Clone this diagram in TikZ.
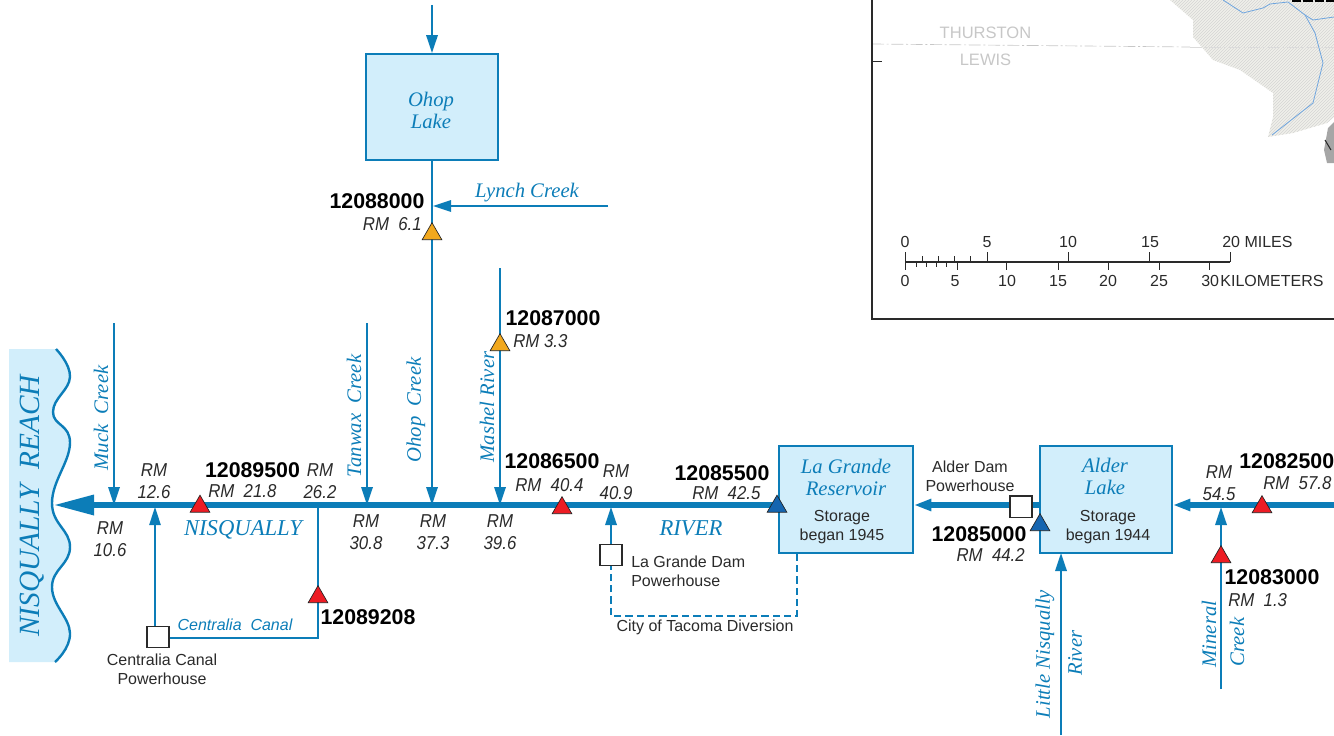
\documentclass[tikz,border=0pt]{standalone}
\usepackage{fontspec}
\usetikzlibrary{shapes.geometric,arrows.meta,calc,backgrounds}
\setmainfont{Liberation Sans}
\newfontfamily\serifit{Liberation Serif}[ItalicFont=* Italic]
\newfontfamily\narit{Liberation Sans}[FakeStretch=0.9]
\definecolor{riv}{HTML}{0C7DB8}
\definecolor{lake}{HTML}{D2EEFB}
\definecolor{ink}{HTML}{2A2A2A}
\definecolor{stream}{HTML}{6FA5DE}
\definecolor{land}{HTML}{F0F0EA}
\definecolor{gred}{HTML}{ED1C24}
\definecolor{gblue}{HTML}{1565B0}
\definecolor{gora}{HTML}{F2A81D}
\tikzset{
  x=0.75pt,y=-0.75pt,
  flow/.style={draw=riv,line width=1.7pt},
  minor/.style={flow,line width=1.2pt},
  inh/.style={-{Triangle[length=13.5pt,width=8.5pt]}},
  mainh/.style={-{Triangle[length=13pt,width=8.5pt]}},
  lakebox/.style={draw=riv,fill=lake,line width=1.4pt,inner sep=0pt},
  ph/.style={draw=ink,fill=white,line width=1pt,inner sep=0pt,minimum width=16.5pt,minimum height=16pt},
  gauge/.style={regular polygon,regular polygon sides=3,draw=ink!80!black,line width=.5pt,inner sep=0pt,minimum size=17pt},
  redg/.style={gauge,fill=gred},
  blueg/.style={gauge,fill=gblue},
  orag/.style={gauge,fill=gora},
  sid/.style={font=\fontsize{16}{16}\selectfont\bfseries,text=black,inner sep=0pt},
  rm/.style={font=\fontsize{14}{16}\narit\itshape,text=ink,inner sep=0pt,align=center},
  lab/.style={font=\fontsize{12}{14.5}\selectfont,text=ink,inner sep=0pt,align=center},
  nm/.style={font=\fontsize{15.5}{15.5}\serifit\itshape,text=riv,inner sep=0pt,align=center},
  big/.style={font=\fontsize{17}{17}\serifit\itshape,text=riv,inner sep=0pt},
  sc/.style={font=\fontsize{12}{12}\selectfont,text=ink,inner sep=0pt},
  ct/.style={font=\fontsize{12.4}{12.4}\selectfont,text=black!22,inner sep=0pt},
}
\begin{document}
\begin{tikzpicture}
\useasboundingbox (0,0) rectangle (1334,735);
% ---- map inset
\begin{scope}
\clip (872,0) rectangle (1334,319);
\path[fill=land] (1170,0)--(1193,20)--(1193,37)--(1213,60)--(1240,70)--(1273,93)--(1273,117)--(1268,137)--(1293,133)--(1327,123)--(1334,117)--(1334,0)--cycle;
\begin{scope}
\clip (1170,0)--(1193,20)--(1193,37)--(1213,60)--(1240,70)--(1273,93)--(1273,117)--(1268,137)--(1293,133)--(1327,123)--(1334,117)--(1334,0)--cycle;
\foreach \i in {-140,-137,...,180}{\draw[black!17,line width=.35pt] (1165+\i,140)--(1165+\i+140,0);}
\end{scope}
\fill[black!35] (1334,122)--(1328,128)--(1324,150)--(1327,163)--(1334,163)--cycle;
\draw[ink,line width=.8pt] (1325,140)--(1331,150);
\draw[stream,line width=.6pt] (1223,0)--(1243,13)--(1263,8)--(1270,4)--(1288,2)--(1305,15)--(1315,33)--(1323,63)--(1313,103)--(1272,135);
\draw[stream,line width=.6pt] (1305,15)--(1313,20)--(1334,17);
\draw[black,line width=1.6pt,dash pattern=on 7pt off 1.5pt] (1292,0.8)--(1334,0.8);
\end{scope}
\draw[black!22,line width=.5pt,dash pattern=on 9pt off 2pt on 1.5pt off 2pt] (872,44)--(1190,47);
\draw[black!14,line width=.4pt,dash pattern=on 9pt off 2pt on 1.5pt off 2pt] (1190,47)--(1334,47);
\draw[ink,line width=1.1pt] (872,0)--(872,319)--(1334,319);
\draw[ink,line width=.6pt] (872,61)--(882,61);
\node[ct] (thu) at (985.5,33) {THURSTON};
\node[ct] (lew) at (985.5,60) {LEWIS};
% scale bar
\draw[ink,line width=.8pt] (905,262)--(1230,262);
\foreach \x in {905,987,1068,1149,1230}{\draw[ink,line width=.5pt] (\x,252)--(\x,262);}
\foreach \x in {922,938,954,970}{\draw[ink,line width=.5pt] (\x,256)--(\x,262);}
\foreach \x in {905,957,1006,1058,1108,1159,1209}{\draw[ink,line width=.5pt] (\x,262)--(\x,270);}
\foreach \x in {916,926,936,946}{\draw[ink,line width=.5pt] (\x,262)--(\x,267);}
\node[sc] (m0) at (905,242) {0};
\node[sc] (m5) at (987,242) {5};
\node[sc] (m10) at (1068,242) {10};
\node[sc] (m15) at (1150,242) {15};
\node[sc,anchor=west] (m20) at (1222,242) {20 MILES};
\node[sc] (k0) at (905,281) {0};
\node[sc] (k5) at (955,281) {5};
\node[sc] (k10) at (1007,281) {10};
\node[sc] (k15) at (1058,281) {15};
\node[sc] (k20) at (1108,281) {20};
\node[sc] (k25) at (1159,281) {25};
\node[sc,anchor=west] (k30) at (1201,281) {30\kern1pt KILOMETERS};
% ---- Nisqually Reach
\path[fill=lake] (9,349)-- plot[smooth,tension=.75] coordinates {(56,349)(70,377)(53,412)(70,443)(52,503)(70,547)(52,587)(70,633)(55,662)} --(9,662)--cycle;
\draw[riv,line width=1.8pt] plot[smooth,tension=.75] coordinates {(56,349)(70,377)(53,412)(70,443)(52,503)(70,547)(52,587)(70,633)(55,662)};
\node[rotate=90,font=\fontsize{22}{22}\serifit\itshape,text=riv,inner sep=0pt] (reach) at (32,506) {NISQUALLY\ \ REACH};
% ---- lakes
\node[lakebox,minimum width=99pt,minimum height=79.5pt] (ohop) at (432,107) {};
\node[nm] (ohopt) at (431,110) {Ohop\\[1pt]Lake};
\node[lakebox,minimum width=100.5pt,minimum height=80pt] (lg) at (846,499.5) {};
\node[nm] (lgt) at (846,477) {La Grande\\[1pt]Reservoir};
\node[lab] (lgs) at (842,527) {Storage\\began 1945};
\node[lakebox,minimum width=99pt,minimum height=80pt] (al) at (1106,499.5) {};
\node[nm] (alt) at (1105,476) {Alder\\[1pt]Lake};
\node[lab] (als) at (1108,527) {Storage\\began 1944};
% ---- coordinates
\coordinate (mouth) at (55,505);
\coordinate (mouthB) at (90,505);
\coordinate (lgw) at (lg.west|-mouth);
\coordinate (lge) at (lg.east|-mouth);
\coordinate (alw) at (al.west|-mouth);
\coordinate (ale) at (al.east|-mouth);
\coordinate (rte) at (1334,505);
\coordinate (ohoptop) at (432,5);
\coordinate (ohopj) at (432,505);
\coordinate (lynchE) at (608,206);
\coordinate (lynchW) at (433,206);
\coordinate (mashT) at (500,268);
\coordinate (mashJ) at (500,505);
\coordinate (muckT) at (114,323);
\coordinate (muckJ) at (114,505);
\coordinate (tanT) at (367,323);
\coordinate (tanJ) at (367,505);
\coordinate (cenJ) at (155,507);
\coordinate (canJ) at (318,505);
\coordinate (canB) at (318,638);
\coordinate (dvA) at (797,616);
\coordinate (dvB) at (611,616);
\coordinate (dvJ) at (611,507);
\coordinate (minB) at (1221,689);
\coordinate (minJ) at (1221,507);
\coordinate (litB) at (1061,735);
\coordinate (litT) at (1061,553);
% ---- powerhouses
\node[ph] (ppc) at (158,637) {};
\node[ph] (ppl) at (611,555) {};
\node[ph] (ppa) at (1021,506.5) {};
% ---- river and tributaries, under the symbols
\begin{pgfonlayer}{background}
\draw[flow,line width=3.8pt] (lgw)--(mouthB);
\draw[flow,line width=3.8pt,mainh] (alw)--(lge);
\draw[flow,line width=3.8pt,mainh] (rte)--(ale);
\draw[flow,inh] (ohoptop)--(ohop.north);
\draw[flow,inh] (ohop.south)--(ohopj);
\draw[flow,inh] (lynchE)--(lynchW);
\draw[flow,inh] (mashT)--(mashJ);
\draw[flow,inh] (muckT)--(muckJ);
\draw[flow,inh] (tanT)--(tanJ);
\draw[minor,inh] (ppc.north-|cenJ)--(cenJ);
\draw[minor] (canJ)--(canB)--(ppc.east|-canB);
\draw[flow,dash pattern=on 5.5pt off 3pt] (lg.south-|dvA)--(dvA)--(dvB)--(ppl.south-|dvB);
\draw[flow,inh] (ppl.north-|dvJ)--(dvJ);
\draw[flow,inh] (minB)--(minJ);
\draw[flow,inh] (litB)--(litT);
\end{pgfonlayer}
\fill[riv] (55,505)--(94,494.5)--(94,515.5)--cycle;
% ---- gauges
\node[redg] (g89500) at (200,506.5) {};
\node[redg] (g89208) at (318,597) {};
\node[orag] (g88000) at (432,234) {};
\node[orag] (g87000) at (500,345) {};
\node[redg] (g86500) at (562,508) {};
\node[blueg] (g85500) at (777,506.5) {};
\node[blueg] (g85000) at (1040,525) {};
\node[redg] (g83000) at (1221,557) {};
\node[redg] (g82500) at (1262,507) {};
% ---- station labels
\node[sid] (s1) at (252.5,470) {12089500};
\node[sid] (s2) at (368,617) {12089208};
\node[sid] (s3) at (377,201) {12088000};
\node[sid] (s4) at (553,318) {12087000};
\node[sid] (s5) at (552,461) {12086500};
\node[sid] (s6) at (722,473) {12085500};
\node[sid] (s7) at (979,534) {12085000};
\node[sid] (s9) at (1272,577) {12083000};
\node[sid,anchor=west] (s10) at (1239,461) {12082500};
% ---- river miles
\node[rm] (r1) at (110,539) {RM\\10.6};
\node[rm] (r2) at (154,481) {RM\\12.6};
\node[rm,anchor=west] (r3) at (208,491) {RM\ \ 21.8};
\node[rm] (r4) at (320,481) {RM\\26.2};
\node[rm] (r5) at (366,532) {RM\\30.8};
\node[rm] (r6) at (433,532) {RM\\37.3};
\node[rm] (r7) at (500,532) {RM\\39.6};
\node[rm,anchor=west] (r8) at (515,485) {RM\ \ 40.4};
\node[rm] (r9) at (616,482) {RM\\40.9};
\node[rm,anchor=west] (r10) at (692,493) {RM\ \ 42.5};
\node[rm,anchor=east] (r11) at (1025,555) {RM\ \ 44.2};
\node[rm] (r12) at (1219,483) {RM\\54.5};
\node[rm,anchor=west] (r13) at (1263,483) {RM\ \ 57.8};
\node[rm,anchor=west] (r14) at (1228,600) {RM\ \ 1.3};
\node[rm,anchor=east] (r15) at (422,224) {RM\ \ 6.1};
\node[rm,anchor=west] (r16) at (513,341) {RM 3.3};
% ---- river names
\node[big] (n1) at (243,530) {NISQUALLY};
\node[big] (n2) at (691,528) {RIVER};
\node[nm,rotate=90] (n3) at (101,418) {Muck\ \ Creek};
\node[nm,rotate=90] (n4) at (354,416) {Tanwax\ \ Creek};
\node[nm,rotate=90] (n5) at (416,410) {Ohop\ \ Creek};
\node[nm,rotate=90] (n6) at (487,407) {Mashel River};
\node[nm] (n7) at (527,193) {Lynch Creek};
\node[nm,rotate=90] (n8) at (1045,654) {Little Nisqually};
\node[nm,rotate=90] (n9) at (1075,653) {River};
\node[nm,rotate=90] (n10) at (1209,634) {Mineral};
\node[nm,rotate=90] (n11) at (1237,642) {Creek};
\node[font=\fontsize{12}{12}\selectfont\itshape,text=riv,inner sep=0pt] (n12) at (235,625) {Centralia\ \ Canal};
% ---- plain labels
\node[lab] (l1) at (162,669) {Centralia Canal\\Powerhouse};
\node[lab,align=left,anchor=west] (l2) at (631,571) {La Grande Dam\\Powerhouse};
\node[lab] (l3) at (705,627) {City of Tacoma Diversion};
\node[lab] (l4) at (970,476) {Alder Dam\\Powerhouse};
\end{tikzpicture}
\end{document}
